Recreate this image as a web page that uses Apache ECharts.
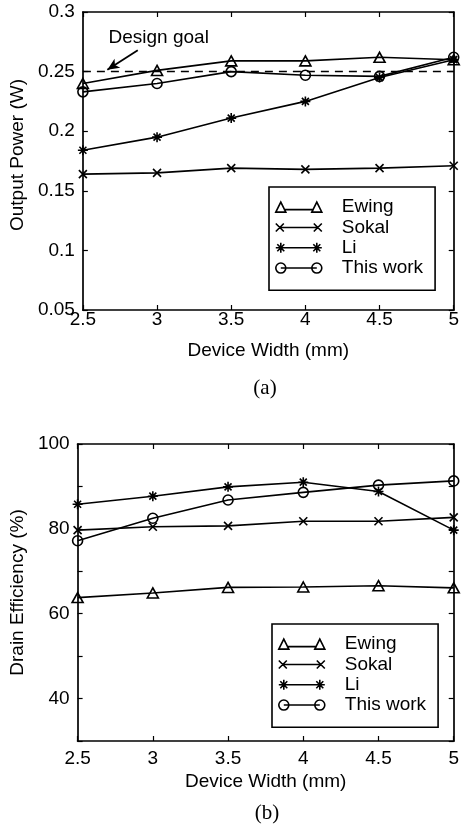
<!DOCTYPE html>
<html><head><meta charset="utf-8">
<script src="https://cdn.jsdelivr.net/npm/echarts@6/dist/echarts.min.js"></script>
<style>html,body{margin:0;padding:0;background:#fff}#c{width:462px;height:834px}</style>
</head><body><div id="c"></div>
<script>
// ---- data ----
const widths = [2.5, 3, 3.5, 4, 4.5, 5];
const seriesNames = ['Ewing', 'Sokal', 'Li', 'This work'];
const powerEwing = [0.240, 0.251, 0.259, 0.259, 0.262, 0.260];
const powerSokal = [0.164, 0.165, 0.169, 0.168, 0.169, 0.171];
const powerLi = [0.184, 0.195, 0.211, 0.225, 0.245, 0.260];
const powerThisWork = [0.233, 0.240, 0.250, 0.247, 0.246, 0.262];
const designGoal = 0.25;
const effEwing = [63.8, 64.9, 66.2, 66.3, 66.6, 66.1];
const effSokal = [79.7, 80.5, 80.7, 81.8, 81.8, 82.7];
const effLi = [85.8, 87.7, 89.9, 91.0, 88.8, 79.7];
const effThisWork = [77.2, 82.5, 86.8, 88.6, 90.3, 91.3];
const xTicks = [2.5, 3, 3.5, 4, 4.5, 5];
const powerTicks = [0.05, 0.1, 0.15, 0.2, 0.25, 0.3];
const effTickLabels = [40, 60, 80, 100];
const captions = ['(a)', '(b)'];

// ---- styling ----
const FONT = '"Liberation Sans", Arial, Helvetica, sans-serif';
const FS = 19;
const LW = 1.6;
const symX = 'path://M0,0L10,10M0,10L10,0';
const symStar = 'path://M5,0L5,10M0,5L10,5M1.5,1.5L8.5,8.5M8.5,1.5L1.5,8.5';
const symbols = ['triangle', symX, symStar, 'circle'];
const symSizes = [[11, 10], 8, 10, 10];
const legendIcons = [
  'path://M0,10L5,0L10,10ZM36,10L41,0L46,10ZM8,7.5L38,7.5',
  'path://M0,1L8,9M0,9L8,1M38,1L46,9M38,9L46,1M4,5L42,5M23,0L23,0.01M23,10L23,9.99',
  'path://M5,0L5,10M0,5L10,5M1.5,1.5L8.5,8.5M8.5,1.5L1.5,8.5M41,0L41,10M36,5L46,5M37.5,1.5L44.5,8.5M44.5,1.5L37.5,8.5M5,5L41,5',
  'path://M0,5A5,5,0,1,0,10,5A5,5,0,1,0,0,5ZM36,5A5,5,0,1,0,46,5A5,5,0,1,0,36,5ZM5,5L41,5'
];

const pair = (xs, ys) => xs.map((x, i) => [x, ys[i]]);

function mkSeries(name, idx, ys, axIdx) {
  return {
    type: 'line', name: name, xAxisIndex: axIdx, yAxisIndex: axIdx,
    data: pair(widths, ys),
    symbol: symbols[idx], symbolSize: symSizes[idx],
    showAllSymbol: true,
    lineStyle: { color: '#000', width: LW },
    itemStyle: { color: 'rgba(0,0,0,0)', borderColor: '#000', borderWidth: LW },
    emphasis: { disabled: true },
    z: 3, animation: false
  };
}

function xAxes(gridIndex, labelMargin) {
  const base = {
    type: 'value', gridIndex: gridIndex, min: 2.5, max: 5, interval: 0.5,
    axisLine: { show: true, lineStyle: { color: '#000', width: 1.7 } },
    axisTick: { show: true, inside: true, length: 5, lineStyle: { color: '#000', width: 1.2 } },
    splitLine: { show: false }
  };
  return [
    Object.assign({}, base, {
      position: 'bottom',
      axisLabel: { show: true, color: '#000', fontFamily: FONT, fontSize: FS, margin: labelMargin,
        formatter: v => (xTicks.indexOf(v) >= 0 ? String(v) : '') },
      name: 'Device Width (mm)', nameLocation: 'middle', nameGap: 31,
      nameTextStyle: { color: '#000', fontFamily: FONT, fontSize: FS }
    }),
    Object.assign({}, base, { position: 'top', axisLabel: { show: false } })
  ];
}

function yAxes(gridIndex, min, max, interval, name, nameGap, formatter, namePad) {
  const base = {
    type: 'value', gridIndex: gridIndex, min: min, max: max, interval: interval,
    axisLine: { show: true, lineStyle: { color: '#000', width: 1.7 } },
    axisTick: { show: true, inside: true, length: 5, lineStyle: { color: '#000', width: 1.2 } },
    splitLine: { show: false }
  };
  return [
    Object.assign({}, base, {
      position: 'left',
      axisLabel: { show: true, color: '#000', fontFamily: FONT, fontSize: FS, margin: 8, formatter: formatter },
      name: name, nameLocation: 'middle', nameGap: nameGap,
      nameTextStyle: { color: '#000', fontFamily: FONT, fontSize: FS, padding: namePad }
    }),
    Object.assign({}, base, { position: 'right', axisLabel: { show: false } })
  ];
}

function mkLegend(left, top) {
  return {
    orient: 'vertical', left: left, top: top,
    itemWidth: 46, itemHeight: 10, itemGap: 0,
    padding: [10, 12, 12, 6],
    borderColor: '#000', borderWidth: 1.6, backgroundColor: '#fff',
    selectedMode: false,
    textStyle: { color: '#000', fontFamily: FONT, fontSize: FS, lineHeight: 20.3, padding: [0, 0, 0, 15] },
    itemStyle: { color: 'rgba(0,0,0,0)', borderColor: '#000', borderWidth: LW },
    data: seriesNames.map((n, i) => ({ name: n, icon: legendIcons[i] }))
  };
}

const chart = echarts.init(document.getElementById('c'), null, { renderer: 'canvas' });

const powerSeries = [powerEwing, powerSokal, powerLi, powerThisWork].map((d, i) => mkSeries(seriesNames[i], i, d, 0));
const effSeries = [effEwing, effSokal, effLi, effThisWork].map((d, i) => mkSeries(seriesNames[i], i, d, 2));

const goalSeries = {
  type: 'line', name: 'Design goal', xAxisIndex: 0, yAxisIndex: 0,
  data: [[2.5, designGoal], [5, designGoal]],
  symbol: 'none', silent: true, animation: false, z: 2,
  lineStyle: { color: '#000', width: 1.5, type: [8, 6] },
  markLine: {
    silent: true, animation: false,
    symbol: ['none', 'arrow'], symbolSize: [8, 12],
    lineStyle: { color: '#000', width: 1.8, type: 'solid' },
    label: { show: false },
    data: [[{ coord: [2.87, 0.268] }, { coord: [2.665, 0.2515] }]]
  },
  markPoint: {
    silent: true, animation: false, symbol: 'circle', symbolSize: 0,
    label: { show: true, position: 'right', distance: 0, color: '#000', fontFamily: FONT, fontSize: FS, formatter: 'Design goal' },
    data: [{ coord: [2.673, 0.2784] }]
  }
};

const option = {
  backgroundColor: '#fff',
  animation: false,
  grid: [
    { left: 77, right: 4, top: 12, bottom: 524, containLabel: false },
    { left: 75, right: 7, top: 444, bottom: 93, containLabel: false }
  ],
  xAxis: [].concat(xAxes(0, 0), xAxes(1, 8)),
  yAxis: [].concat(
    yAxes(0, 0.05, 0.3, 0.05, 'Output Power (W)', 46, v => { const r = Math.round(v * 100) / 100; return powerTicks.indexOf(r) >= 0 ? String(r) : ''; }, [0, 0, 0, 12]),
    yAxes(1, 30, 100, 10, 'Drain Efficiency (%)', 40, v => (effTickLabels.indexOf(v) >= 0 ? String(v) : ''), [0, 0, 0, 0])
  ),
  legend: [mkLegend(269, 187), mkLegend(272, 624)],
  graphic: [
    { type: 'text', x: 265, y: 388, style: { text: captions[0], font: '21px "Liberation Serif", "Times New Roman", serif', fill: '#000', textAlign: 'center', textVerticalAlign: 'middle' } },
    { type: 'text', x: 267, y: 813, style: { text: captions[1], font: '21px "Liberation Serif", "Times New Roman", serif', fill: '#000', textAlign: 'center', textVerticalAlign: 'middle' } }
  ],
  series: [goalSeries].concat(powerSeries, effSeries)
};
chart.setOption(option);
</script>
</body></html>
